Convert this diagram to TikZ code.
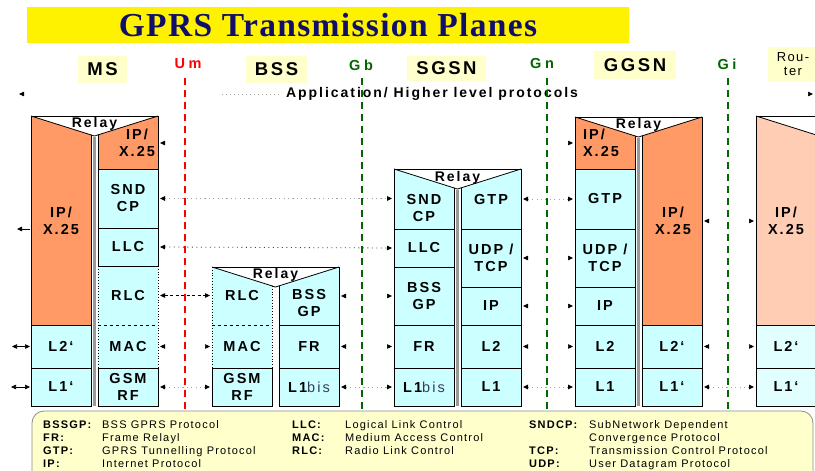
\documentclass[tikz,border=0pt]{standalone}
\usepackage{fontspec}
\setmainfont{Liberation Sans}
\newfontfamily\lsb[LetterSpace=14]{Liberation Sans}
\newfontfamily\lsw[LetterSpace=25]{Liberation Sans}
\newfontfamily\lsl[LetterSpace=11]{Liberation Sans}
\newfontfamily\ttlfont[LetterSpace=4]{Liberation Serif}
\usetikzlibrary{arrows.meta}
\definecolor{lcyan}{HTML}{CCFFFF}
\definecolor{lorange}{HTML}{FF9966}
\definecolor{lyellow}{HTML}{FFFFCC}
\definecolor{rsalmon}{HTML}{FFCDB4}
\definecolor{rcyan}{HTML}{E2FFFF}
\definecolor{navy}{HTML}{10106A}
\definecolor{dgreen}{HTML}{006600}
\definecolor{bisgray}{HTML}{3A3A5A}
\tikzset{
 layer/.style={draw=black,line width=0.8pt,fill=lcyan,inner sep=0pt,outer sep=0pt,align=center,font=\lsb\bfseries\fontsize{14.5}{17}\selectfont},
 lbl/.style={inner sep=0pt,align=center,font=\lsb\bfseries\fontsize{14.5}{17}\selectfont},
 relay/.style={inner sep=0pt,font=\lsb\bfseries\fontsize{14}{15}\selectfont},
 frame/.style={draw=black,line width=0.8pt},
 shadowbar/.style={draw=black!40,line width=2.2pt},
 hdr/.style={fill=lyellow,inner sep=0pt,font=\lsb\bfseries\fontsize{18.5}{20}\selectfont},
 iface/.style={inner sep=0pt,font=\lsw\bfseries\fontsize{14.5}{16}\selectfont},
 ifline/.style={line width=2.6pt,dash pattern=on 7pt off 5pt},
 graylink/.style={draw=black!35,line width=1pt,dash pattern=on 1.2pt off 3.2pt,<->,shorten <=2pt,shorten >=2pt},
 darklink/.style={draw=black!75,line width=0.8pt,dash pattern=on 1pt off 3.5pt,<->,shorten <=2pt,shorten >=2pt},
 dashlink/.style={draw=black,line width=0.8pt,dash pattern=on 3pt off 2.5pt,<->,shorten <=2pt,shorten >=2pt},
 ghost/.style={draw=white,line width=0.5pt,<->,shorten <=2pt,shorten >=2pt},
 legab/.style={anchor=base west,inner sep=0pt,font=\lsl\bfseries\fontsize{11}{13}\selectfont},
 legtx/.style={anchor=base west,inner sep=0pt,font=\lsl\fontsize{11}{13}\selectfont},
}
\newcommand\lay[7][]{\node[layer,minimum width={(#5-#3)*1pt},minimum height={(#6-#4)*1pt},#1] (#2) at ({(#3+#5)/2},{(#4+#6)/2}) {#7};}
\newcommand\frameV[7][solid]{%
 \fill[#4] (#2,#3) -- ({#2+60},{#3+18.9}) -- ({#2+60},#6) -- (#2,#6) -- cycle;
 \fill[#5] ({#2+67},{#3+18.9}) -- ({#2+127},#3) -- ({#2+127},#7) -- ({#2+67},#7) -- cycle;
 \draw[frame] (#2,#3) -- ({#2+127},#3);
 \draw[frame] (#2,#3) -- ({#2+63.5},{#3+20}) -- ({#2+127},#3);
 \draw[frame,#1] (#2,#3) -- (#2,#6);
 \draw[frame,#1] ({#2+60},{#3+18.9}) -- ({#2+60},#6);
 \draw[frame] ({#2+67},{#3+18.9}) -- ({#2+67},#7);
 \draw[frame] ({#2+127},#3) -- ({#2+127},#7);
}
\newcommand\bis{\mdseries\color{bisgray}bis}
\begin{document}
\begin{tikzpicture}[x=1pt,y=-1pt,>={Triangle[length=5pt,width=4.5pt,color=black]}]
\useasboundingbox (0,0) rectangle (815,471);
\clip (0,0) rectangle (815,471);
\fill[white] (0,0) rectangle (815,471);

% title
\node[fill=yellow,minimum width=602pt,minimum height=36pt,inner sep=0pt,text=navy,font=\ttlfont\bfseries\fontsize{33.5}{35}\selectfont] (title) at (328,25) {GPRS Transmission Planes};

% ---------- MS ----------
\frameV{31}{116}{lorange}{lorange}{325}{169}
\draw[shadowbar] (94.5,137) -- (94.5,406);
\lay[draw=none]{ms-rlc}{98}{266}{158}{325}{RLC}
\lay[draw=none]{ms-mac}{98}{325}{158}{368}{MAC}
\draw[frame,dotted] (ms-rlc.north west) -- (ms-mac.south west);
\draw[frame,dotted] (ms-rlc.north east) -- (ms-mac.south east);
\draw[frame,dashed] (ms-rlc.south west) -- (ms-rlc.south east);
\lay{ms-sndcp}{98}{169}{158}{228}{SND\\CP}
\lay{ms-llc}{98}{228}{158}{266}{LLC}
\lay{ms-gsm}{98}{368}{158}{406}{GSM\\RF}
\lay{ms-l2}{31}{325}{91}{368}{L2‘}
\lay{ms-l1}{31}{368}{91}{406}{L1‘}
\node[lbl] (ms-ipl) at (61,221) {IP/\\X.25};
\node[lbl] (ms-ipr) at (137,143) {IP/\\X.25};
\node[relay] (ms-relay) at (94.5,124) {Relay};

% ---------- BSS ----------
\frameV[dotted]{212}{267}{lcyan}{lcyan}{325}{325}
\lay[draw=none]{bss-mac}{212}{325}{272}{368}{MAC}
\draw[frame,dotted] (bss-mac.north west) -- (bss-mac.south west);
\draw[frame,dotted] (bss-mac.north east) -- (bss-mac.south east);
\draw[frame,dashed] (bss-mac.north west) -- (bss-mac.north east);
\lay{bss-gsm}{212}{368}{272}{406}{GSM\\RF}
\lay{bss-fr}{279}{325}{339}{368}{FR}
\lay{bss-l1}{279}{368}{339}{406}{L1\bis}
\node[lbl] (bss-rlc) at (242,296) {RLC};
\node[lbl] (bss-bssgp) at (309,303) {BSS\\GP};
\node[relay] (bss-relay) at (275.5,275) {Relay};

% ---------- SGSN ----------
\frameV{394}{169}{lcyan}{lcyan}{229}{229}
\draw[shadowbar] (457.5,190) -- (457.5,406);
\lay{sg-llc}{394}{229}{454}{267}{LLC}
\lay{sg-bssgp}{394}{267}{454}{325}{BSS\\GP}
\lay{sg-fr}{394}{325}{454}{368}{FR}
\lay{sg-l1bis}{394}{368}{454}{406}{L1\bis}
\lay{sg-udp}{461}{229}{521}{287}{UDP /\\TCP}
\lay{sg-ip}{461}{287}{521}{325}{IP}
\lay{sg-l2}{461}{325}{521}{368}{L2}
\lay{sg-l1}{461}{368}{521}{406}{L1}
\node[lbl] (sg-sndcp) at (424,208) {SND\\CP}; 
\node[lbl] (sg-gtp) at (491,200) {GTP};
\node[relay] (sg-relay) at (457.5,178) {Relay};

% ---------- GGSN ----------
\frameV{575}{117}{lorange}{lorange}{169}{325}
\draw[shadowbar] (638.5,138) -- (638.5,406);
\lay{gg-gtp}{575}{169}{635}{229}{GTP}
\lay{gg-udp}{575}{229}{635}{287}{UDP /\\TCP}
\lay{gg-ip}{575}{287}{635}{325}{IP}
\lay{gg-l2}{575}{325}{635}{368}{L2}
\lay{gg-l1}{575}{368}{635}{406}{L1}
\lay{gg-l2b}{642}{325}{702}{368}{L2‘}
\lay{gg-l1b}{642}{368}{702}{406}{L1‘}
\node[lbl,align=left] (gg-ipl) at (601,143) {IP/\\X.25};
\node[lbl] (gg-ipr) at (673,221) {IP/\\X.25};
\node[relay] (gg-relay) at (638.5,125) {Relay};

% ---------- Router ----------
\frameV{756}{116}{rsalmon}{rsalmon}{325}{325}
\lay[fill=rcyan]{rt-l2}{756}{325}{816}{368}{L2‘}
\lay[fill=rcyan]{rt-l1}{756}{368}{816}{406}{L1‘}
\node[lbl] (rt-ip) at (786,221) {IP/\\X.25};

% ---------- coordinates for link ends ----------
\coordinate (appL) at (17,94);
\coordinate (appR) at (815,94);
\coordinate (appdot) at (222,94);
\coordinate (ms-ipr-e) at (158,143);
\coordinate (gg-ipl-w) at (575,143);
\coordinate (sg-sndcp-w) at (394,198.5);
\coordinate (bss-rlc-w) at (212,295.5);
\coordinate (bss-bssgp-e) at (339,296);
\coordinate (sg-gtp-e) at (521,199);
\coordinate (gg-ipr-e) at (702,221);
\coordinate (rt-ip-w) at (756,221);
\coordinate (ms-ipl-w) at (31,229);
\coordinate (offL-ip) at (17,229);
\coordinate (offL-l2) at (12,346.5);
\coordinate (offL-l1) at (11,387);

% ---------- links ----------
\draw[ghost] (appL) -- (appR);
\draw[draw=black!35,line width=0.8pt,dash pattern=on 1pt off 3pt] (appdot) -- (282,94);
\node[inner sep=0pt,font=\lsb\bfseries\fontsize{14}{15}\selectfont] (app) at (432,94) {Application/ Higher level protocols};
\draw[ghost] (ms-ipr-e) -- (gg-ipl-w);
\draw[graylink] (ms-sndcp.east) -- (sg-sndcp-w);
\draw[darklink] (ms-llc.east) -- (sg-llc.west);
\draw[dashlink] (ms-rlc.east) -- (bss-rlc-w);
\draw[ghost] (ms-mac.east) -- (bss-mac.west);
\draw[graylink] (ms-gsm.east) -- (bss-gsm.west);
\draw[ghost] (bss-bssgp-e) -- (sg-bssgp.west);
\draw[ghost] (bss-fr.east) -- (sg-fr.west);
\draw[graylink] (bss-l1.east) -- (sg-l1bis.west);
\draw[graylink] (sg-gtp-e) -- (gg-gtp.west);
\draw[ghost] (sg-udp.east) -- (gg-udp.west);
\draw[ghost] (sg-ip.east) -- (gg-ip.west);
\draw[ghost] (sg-l2.east) -- (gg-l2.west);
\draw[graylink] (sg-l1.east) -- (gg-l1.west);
\draw[ghost] (gg-ipr-e) -- (rt-ip-w);
\draw[ghost] (gg-l2b.east) -- (rt-l2.west);
\draw[graylink] (gg-l1b.east) -- (rt-l1.west);
\draw[black,line width=0.8pt,->,shorten <=1pt] (ms-ipl-w) -- (offL-ip);
\draw[black,line width=0.6pt,<->,shorten >=1pt] (offL-l2) -- (ms-l2.west);
\draw[black,line width=0.6pt,<->,shorten >=1pt] (offL-l1) -- (ms-l1.west);

% ---------- interface lines ----------
\coordinate (um-t) at (185,78); \coordinate (um-b) at (185,411);
\coordinate (gb-t) at (362,78); \coordinate (gb-b) at (362,411);
\coordinate (gn-t) at (547,78); \coordinate (gn-b) at (547,411);
\coordinate (gi-t) at (728,78); \coordinate (gi-b) at (728,411);
\draw[ifline,red] (um-t) -- (um-b);
\draw[ifline,dgreen] (gb-t) -- (gb-b);
\draw[ifline,dgreen] (gn-t) -- (gn-b);
\draw[ifline,dgreen] (gi-t) -- (gi-b);
\node[iface,text=red] (um) at (188,64) {Um};
\node[iface,text=dgreen] (gb) at (361,65) {Gb};
\node[iface,text=dgreen] (gn) at (542,64) {Gn};
\node[iface,text=dgreen] (gi) at (727,64) {Gi};

% ---------- headers ----------
\node[hdr,minimum width=49pt,minimum height=27pt] (h-ms) at (102.5,69.5) {MS};
\node[hdr,minimum width=61pt,minimum height=27pt] (h-bss) at (276.5,69.5) {BSS};
\node[hdr,minimum width=79pt,minimum height=25pt] (h-sgsn) at (446.5,68.5) {SGSN};
\node[hdr,minimum width=82pt,minimum height=28pt] (h-ggsn) at (635,65) {GGSN};
\node[hdr,minimum width=50pt,minimum height=35pt,align=center,font=\lsl\fontsize{13}{14}\selectfont] (h-rt) at (793,64.5) {Rou-\\ter};

% ---------- legend ----------
\draw[fill=lyellow,draw=black!45,line width=0.8pt,rounded corners=12pt] (32,411) rectangle (813,495);
\node[legab] (lg-a1) at (43,428) {BSSGP:};
\node[legtx] (lg-t1) at (102,428) {BSS GPRS Protocol};
\node[legab] (lg-a2) at (43,441) {FR:};
\node[legtx] (lg-t2) at (102,441) {Frame Relayl};
\node[legab] (lg-a3) at (43,454) {GTP:};
\node[legtx] (lg-t3) at (102,454) {GPRS Tunnelling Protocol};
\node[legab] (lg-a4) at (43,467) {IP:};
\node[legtx] (lg-t4) at (102,467) {Internet Protocol};
\node[legab] (lg-b1) at (292,428) {LLC:};
\node[legtx] (lg-u1) at (345,428) {Logical Link Control};
\node[legab] (lg-b2) at (292,441) {MAC:};
\node[legtx] (lg-u2) at (345,441) {Medium Access Control};
\node[legab] (lg-b3) at (292,454) {RLC:};
\node[legtx] (lg-u3) at (345,454) {Radio Link Control};
\node[legab] (lg-c1) at (529,428) {SNDCP:};
\node[legtx] (lg-v1) at (589,428) {SubNetwork Dependent};
\node[legtx] (lg-v2) at (589,441) {Convergence Protocol};
\node[legab] (lg-c3) at (529,454) {TCP:};
\node[legtx] (lg-v3) at (589,454) {Transmission Control Protocol};
\node[legab] (lg-c4) at (529,467) {UDP:};
\node[legtx] (lg-v4) at (589,467) {User Datagram Protocol};
\end{tikzpicture}
\end{document}
